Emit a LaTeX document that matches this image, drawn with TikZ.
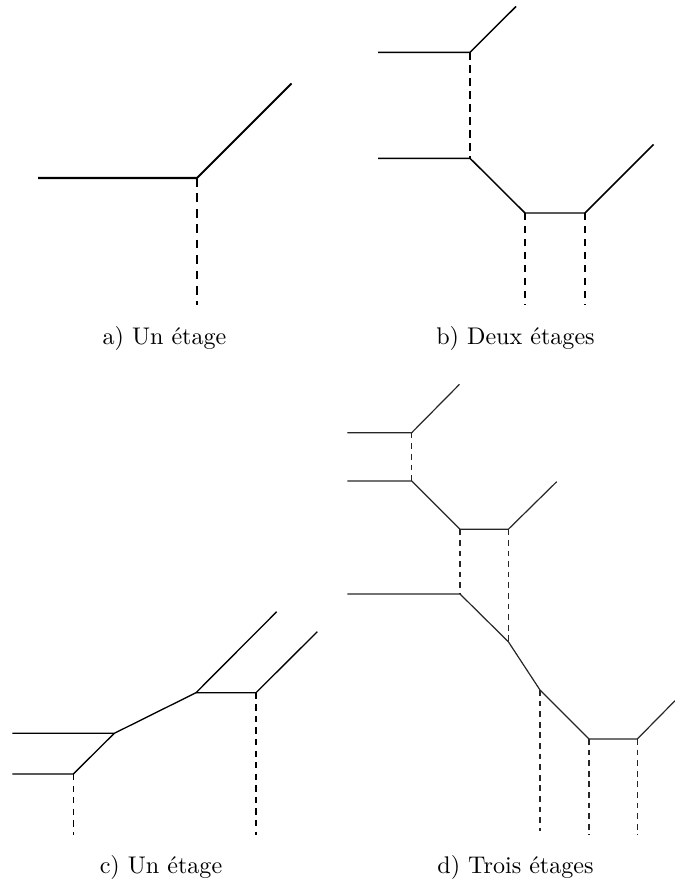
\documentclass[tikz,border=0pt]{standalone}
\begin{document}
\begin{tikzpicture}[x=0.415pt,y=-0.415pt,
  edgeA/.style={line width=0.85pt},
  dashA/.style={line width=0.85pt,dash pattern=on 3.6pt off 2.8pt},
  edgeB/.style={line width=0.6pt},
  dashB/.style={line width=0.6pt,dash pattern=on 3pt off 2.4pt},
  edgeC/.style={line width=0.55pt},
  dashC/.style={line width=0.55pt,dash pattern=on 2.6pt off 2.2pt},
  edgeD/.style={line width=0.5pt,black!85},
  dashD/.style={line width=0.5pt,black!85,dash pattern=on 2.4pt off 2pt},
  caption/.style={anchor=base,inner sep=0pt}]
\useasboundingbox (0,0) rectangle (675,884);
% a)
\coordinate (A1) at (38,178);
\coordinate (A0) at (197,178);
\coordinate (A2) at (291.5,83.5);
\coordinate (A3) at (197,305);
\draw[edgeA] (A1) -- (A0) -- (A2);
\draw[dashA] (A0) -- (A3);
\node[caption] (La) at (164.5,344) {a) Un étage};
% b)
\coordinate (B1L) at (378,52.3);
\coordinate (B1) at (470,52.3);
\coordinate (B1T) at (516,6.5);
\coordinate (B2L) at (378,158.3);
\coordinate (B2) at (470,158.3);
\coordinate (B3) at (525,213);
\coordinate (B4) at (585,213);
\coordinate (B4T) at (653.5,144.5);
\coordinate (B3D) at (525,305);
\coordinate (B4D) at (585,305);
\draw[edgeB] (B1L) -- (B1) -- (B1T);
\draw[edgeB] (B2L) -- (B2) -- (B3) -- (B4) -- (B4T);
\draw[dashB] (B1) -- (B2);
\draw[dashB] (B3) -- (B3D);
\draw[dashB] (B4) -- (B4D);
\node[caption] (Lb) at (515.5,344) {b) Deux étages};
% c)
\coordinate (C1L) at (12.3,774);
\coordinate (C1) at (73.3,774);
\coordinate (C1D) at (73.3,835);
\coordinate (C2L) at (12.3,733.3);
\coordinate (C2) at (114.3,733.3);
\coordinate (C3) at (196,692.7);
\coordinate (C3T) at (276.7,611.7);
\coordinate (C4) at (256,692.7);
\coordinate (C4T) at (317.3,631.7);
\coordinate (C4D) at (256,835);
\draw[edgeC] (C1L) -- (C1) -- (C2);
\draw[edgeC] (C2L) -- (C2) -- (C3) -- (C3T);
\draw[edgeC] (C3) -- (C4) -- (C4T);
\draw[dashC] (C1) -- (C1D);
\draw[dashC] (C4) -- (C4D);
\node[caption] (Lc) at (161,873) {c) Un étage};
% d)
\coordinate (D1L) at (347.3,432.7);
\coordinate (D1) at (411.7,432.7);
\coordinate (D1T) at (459.5,384.3);
\coordinate (D2L) at (347.3,481);
\coordinate (D2) at (411.7,481);
\coordinate (D3) at (460,529.3);
\coordinate (D4) at (508.3,529.3);
\coordinate (D4T) at (556.7,481.7);
\coordinate (D5L) at (347.3,594);
\coordinate (D5) at (460,594);
\coordinate (D6) at (508.3,641.7);
\coordinate (D7) at (540,690);
\coordinate (D8) at (589,739);
\coordinate (D9) at (637.3,739);
\coordinate (D9T) at (675,700.7);
\coordinate (D7D) at (540,831);
\coordinate (D8D) at (589,835);
\coordinate (D9D) at (637.3,835);
\draw[edgeD] (D1L) -- (D1) -- (D1T);
\draw[edgeD] (D2L) -- (D2) -- (D3) -- (D4) -- (D4T);
\draw[edgeD] (D5L) -- (D5) -- (D6) -- (D7) -- (D8) -- (D9) -- (D9T);
\draw[dashD] (D1) -- (D2);
\draw[dashD] (D3) -- (D5);
\draw[dashD] (D4) -- (D6);
\draw[dashD] (D7) -- (D7D);
\draw[dashD] (D8) -- (D8D);
\draw[dashD] (D9) -- (D9D);
\node[caption] (Ld) at (515.5,873) {d) Trois étages};
\end{tikzpicture}
\end{document}
